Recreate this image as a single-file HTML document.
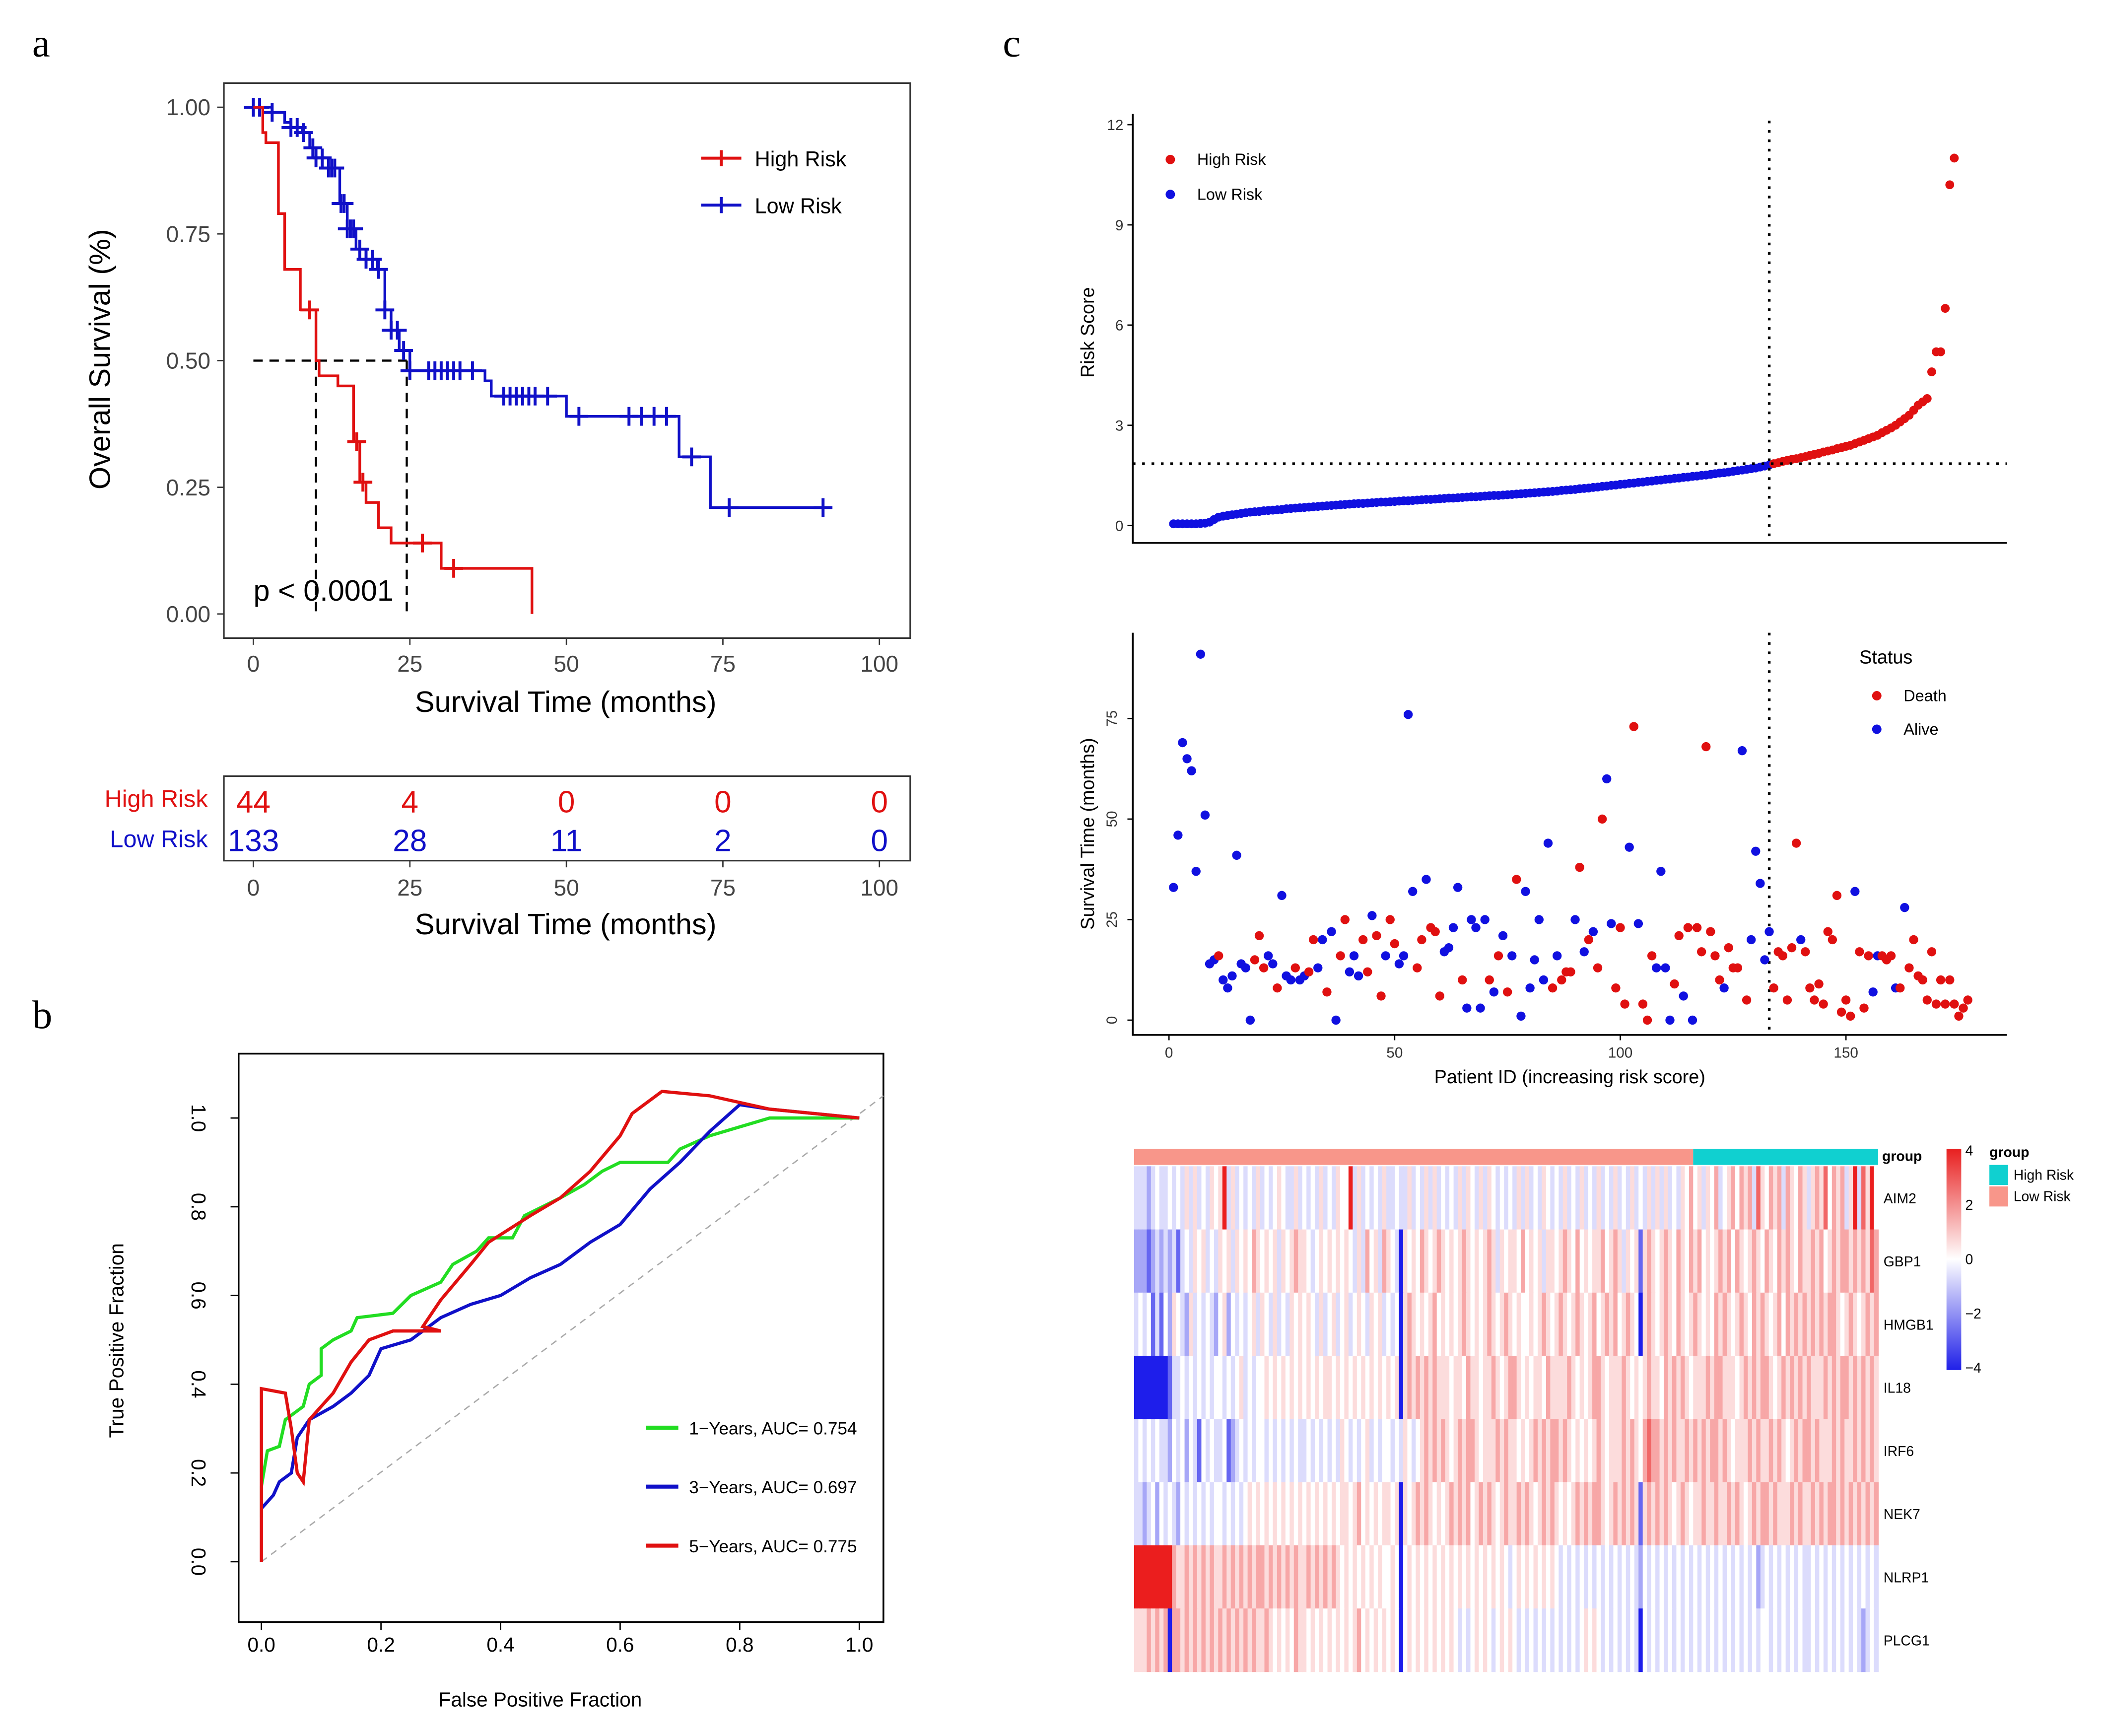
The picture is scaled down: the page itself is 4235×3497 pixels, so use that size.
<!DOCTYPE html>
<html><head><meta charset="utf-8"><style>
html,body{margin:0;padding:0;background:#fff;}
svg{display:block;font-family:"Liberation Sans",Arial,sans-serif;}
</style></head><body>
<svg id="fig" width="4235" height="3497" viewBox="0 0 1568 1295" preserveAspectRatio="none">
<rect x="0" y="0" width="1590" height="1310" fill="#fff"/>
<g id="A"></g>
<g id="B"></g>
<g id="C1"></g>
<g id="C2"></g>
<g id="C3"></g>
</svg>
<script>
// ---------- DATA ----------
const kmHighT=[0,1.5,2,4,5,7.5,10,10.5,13.5,16,17,18,20,22,30,44.5];
const kmHighS=[1,0.95,0.93,0.79,0.68,0.6,0.5,0.47,0.45,0.34,0.26,0.22,0.17,0.14,0.09,0];
const kmHighCens=[9,16.5,17.5,27,32];
const kmLowT=[0,3,5,6,7.8,9,10,12,13.8,15,16.4,18,19.8,21,22,23.3,25,37,38,50,68,73,92];
const kmLowS=[1,0.99,0.97,0.96,0.95,0.92,0.9,0.88,0.81,0.76,0.72,0.7,0.68,0.6,0.56,0.52,0.48,0.46,0.43,0.39,0.31,0.21,0.21];
const kmLowCens=[0,1,3,6,7,8,9.5,10,11,12,12.5,13,14,14.5,15,15.5,16,17,18,19,20,21,22,23,24,25,28,29,30,31,32,33,35,40,41,42,43,44,45,47,52,60,62,64,66,70,76,91];
const kmTicks=[0,25,50,75,100];
const survTicks=[0,0.25,0.5,0.75,1.0];
const tableHigh=[44,4,0,0,0];
const tableLow=[133,28,11,2,0];
const rocGreen=[[0,0.1],[0,0.17],[0.01,0.25],[0.03,0.26],[0.04,0.32],[0.07,0.35],[0.08,0.4],[0.1,0.42],[0.1,0.48],[0.12,0.5],[0.15,0.52],[0.16,0.55],[0.22,0.56],[0.25,0.6],[0.3,0.63],[0.32,0.67],[0.36,0.7],[0.38,0.73],[0.42,0.73],[0.44,0.78],[0.5,0.82],[0.54,0.85],[0.57,0.88],[0.6,0.9],[0.68,0.9],[0.7,0.93],[0.75,0.96],[0.8,0.98],[0.85,1.0],[1,1]];
const rocBlue=[[0,0.12],[0.02,0.15],[0.03,0.18],[0.05,0.2],[0.06,0.28],[0.08,0.32],[0.12,0.35],[0.15,0.38],[0.18,0.42],[0.2,0.48],[0.25,0.5],[0.3,0.55],[0.35,0.58],[0.4,0.6],[0.45,0.64],[0.5,0.67],[0.55,0.72],[0.6,0.76],[0.65,0.84],[0.7,0.9],[0.75,0.97],[0.8,1.03],[0.85,1.02],[1,1]];
const rocRed=[[0,0],[0,0.39],[0.04,0.38],[0.05,0.3],[0.06,0.2],[0.07,0.18],[0.08,0.32],[0.12,0.38],[0.15,0.45],[0.18,0.5],[0.22,0.52],[0.3,0.52],[0.27,0.53],[0.3,0.59],[0.35,0.67],[0.38,0.72],[0.45,0.78],[0.5,0.82],[0.55,0.88],[0.6,0.96],[0.62,1.01],[0.67,1.06],[0.75,1.05],[0.85,1.02],[1,1]];
const rocTicks=[0,0.2,0.4,0.6,0.8,1.0];
const riskScores=[0.05,0.05,0.05,0.05,0.05,0.05,0.06,0.07,0.1,0.18,0.25,0.28,0.3,0.32,0.34,0.36,0.38,0.4,0.41,0.42,0.44,0.45,0.46,0.47,0.48,0.5,0.51,0.52,0.53,0.54,0.55,0.56,0.57,0.58,0.59,0.6,0.61,0.62,0.63,0.64,0.65,0.66,0.66,0.67,0.68,0.69,0.7,0.7,0.71,0.72,0.73,0.74,0.74,0.75,0.76,0.77,0.78,0.78,0.79,0.8,0.81,0.82,0.82,0.83,0.84,0.85,0.86,0.86,0.87,0.88,0.89,0.9,0.9,0.91,0.92,0.93,0.94,0.95,0.96,0.97,0.98,0.99,1.0,1.01,1.02,1.03,1.05,1.06,1.07,1.08,1.1,1.11,1.12,1.14,1.15,1.17,1.18,1.2,1.21,1.23,1.24,1.26,1.27,1.29,1.3,1.32,1.33,1.35,1.36,1.38,1.39,1.41,1.42,1.44,1.45,1.47,1.48,1.5,1.51,1.53,1.55,1.57,1.58,1.6,1.62,1.64,1.66,1.68,1.7,1.72,1.75,1.78,1.81,1.85,1.88,1.92,1.95,1.98,2.0,2.03,2.06,2.1,2.13,2.16,2.2,2.23,2.26,2.3,2.33,2.37,2.4,2.45,2.5,2.55,2.6,2.65,2.7,2.78,2.85,2.92,3.0,3.1,3.2,3.3,3.45,3.6,3.7,3.8,4.6,5.2,5.2,6.5,10.2,11.0];
const riskTicks=[0,3,6,9,12];
const cutoffIdx=133;
const cutoffScore=1.85;
const survTime=[33,46,69,65,62,37,91,51,14,15,16,10,8,11,41,14,13,0,15,21,13,16,14,8,31,11,10,13,10,11,12,20,13,20,7,22,0,16,25,12,16,11,20,12,26,21,6,16,25,19,14,16,76,32,13,20,35,23,22,6,17,18,23,33,10,3,25,23,3,25,10,7,16,21,7,16,35,1,32,8,15,25,10,44,8,16,10,12,12,25,38,17,20,22,13,50,60,24,8,23,4,43,73,24,4,0,16,13,37,13,0,9,21,6,23,0,23,17,68,22,16,10,8,18,13,13,67,5,20,42,34,15,22,8,17,16,5,18,44,20,17,8,5,9,4,22,20,31,2,5,1,32,17,3,16,7,16,16,15,16,8,8,28,13,20,11,10,5,17,4,10,4,10,4,1,3,5];
const survStatus="AAAAAAAAAA"+"DAAAAAAADD"+"DAADAAADAA"+"DDAADAADDA"+"AADDADDADD"+"AAAADDADDD"+"AAAADAAAAA"+"DADADADAAA"+"AAAADADDDA"+"DADADDAADD"+"DADADDDAAA"+"ADDADADDDD"+"DDADDDADAA"+"AAADDDDDDA"+"DDDDDDDDDD"+"DADDDAADDD"+"ADADDDDDDD"+"DDDDDDD";
const survTicksC=[0,25,50,75];
const patientTicks=[0,50,100,150];
const genes=["AIM2","GBP1","HMGB1","IL18","IRF6","NEK7","NLRP1","PLCG1"];
const heatRows=[
"3332343343"+"4353534354"+"5835343435"+"3434543353"+"4343534354"+"4835343435"+"3343353435"+"3534343535"+"4353543434"+"3535343543"+"4353435343"+"5343534353"+"4353535343"+"5464535463"+"4564656375"+"4656365465"+"3565746563"+"5837584",
"2221232323"+"1343545343"+"5453545465"+"4545354565"+"5434545454"+"5435364536"+"5430545465"+"4565454565"+"4545653545"+"5464545355"+"4565464545"+"5645653545"+"1565456546"+"5465645456"+"5646545654"+"6546565465"+"5656456566"+"5656576",
"3434131425"+"4325343432"+"4524343453"+"5435343545"+"4543534534"+"5345435453"+"4340565454"+"5645454565"+"4545654565"+"4544545654"+"5654565456"+"4565645654"+"0565456546"+"5456545465"+"6545654656"+"5456465656"+"5656566545"+"6545656",
"0000000013"+"3434343434"+"4343453434"+"4545454545"+"4545455454"+"5454545454"+"5450565656"+"5655545546"+"5545565456"+"6545455465"+"5556545456"+"6545556545"+"4565546565"+"6545556566"+"5554565656"+"6545656565"+"6555656566"+"5656565",
"3434343324"+"3424314343"+"3412343434"+"4343434343"+"3434343435"+"4343453434"+"4343543456"+"5656545656"+"6545556565"+"5454565656"+"6565454545"+"6545556565"+"4676656565"+"5656565665"+"6545556565"+"5656545656"+"6565556565"+"5656565",
"3323424343"+"2434343434"+"4343434545"+"4545454545"+"4545454545"+"5456454545"+"5450545656"+"5454565656"+"4565654565"+"5656545656"+"5454565656"+"6545656565"+"1565656545"+"6545565565"+"5656545656"+"6565556565"+"5656566565"+"6565656",
"8888888886"+"5565656565"+"5656565656"+"6565656565"+"5656565654"+"5454545454"+"4540454545"+"4545454545"+"4545454543"+"4545454545"+"4343434343"+"4343434343"+"2434343434"+"3434343434"+"3434343423"+"4343434343"+"3434343434"+"3434343",
"5556565606"+"6565656565"+"6565656565"+"5654545465"+"5454545454"+"5456454545"+"4540454545"+"4545454343"+"4545434545"+"4343434343"+"4343434545"+"4343434343"+"0434343434"+"3434343434"+"3434343434"+"4343434343"+"3434343434"+"3432343"];
const scaleTicks=[4,2,0,-2,-4];

// ---------- HELPERS ----------
const NS="http://www.w3.org/2000/svg";
function mk(parent,tag,attrs,txt){const e=document.createElementNS(NS,tag);for(const k in attrs)e.setAttribute(k,attrs[k]);if(txt!==undefined)e.textContent=txt;parent.appendChild(e);return e;}
function lin(d0,d1,r0,r1){return v=>r0+(v-d0)*(r1-r0)/(d1-d0);}
const fig=document.getElementById('fig');

[["a",24,42],["b",24,767],["c",748,42]].forEach(p=>{
  const t=mk(fig,'text',{x:p[1],y:p[2],'font-family':'"Liberation Serif",serif','font-size':30},p[0]);
  
  
});

// ---------- PANEL A ----------
(function(){
const g=document.getElementById('A');
const X=lin(0,100,189,656), Y=lin(0,1,458,80);
const box=mk(g,'rect',{x:167,y:62,width:512,height:414,fill:'none',stroke:'#333','stroke-width':1.2});

survTicks.forEach(v=>{mk(g,'line',{x1:162,x2:167,y1:Y(v),y2:Y(v),stroke:'#333'});
  const t=mk(g,'text',{x:157,y:Y(v)+6,'text-anchor':'end','font-size':17,fill:'#444'},v.toFixed(2));
  });
kmTicks.forEach(v=>{mk(g,'line',{x1:X(v),x2:X(v),y1:476,y2:481,stroke:'#333'});
  const t=mk(g,'text',{x:X(v),y:501,'text-anchor':'middle','font-size':17,fill:'#444'},v);
  });
let t=mk(g,'text',{x:422,y:531,'text-anchor':'middle','font-size':22},'Survival Time (months)');

t=mk(g,'text',{transform:'translate(82,268) rotate(-90)','text-anchor':'middle','font-size':22},'Overall Survival (%)');

mk(g,'path',{d:`M${X(0)},${Y(0.5)}H${X(24.5)}M${X(10)},${Y(0.5)}V${Y(0)}M${X(24.5)},${Y(0.5)}V${Y(0)}`,stroke:'#000','stroke-dasharray':'7,5','stroke-width':1.6,fill:'none'});
function step(T,S){let d=`M${X(T[0])},${Y(S[0])}`;for(let i=1;i<T.length;i++){d+=`H${X(T[i])}V${Y(S[i])}`;}return d;}
function sAt(T,S,tt){let s=S[0];for(let i=0;i<T.length;i++){if(T[i]<=tt)s=S[i];}return s;}
[[kmLowT,kmLowS,kmLowCens,'#1010c8','km-low-risk-curve'],[kmHighT,kmHighS,kmHighCens,'#e01010','km-high-risk-curve']].forEach(c=>{
  const p=mk(g,'path',{d:step(c[0],c[1]),stroke:c[3],'stroke-width':2,fill:'none'});
  
  c[2].forEach(tt=>{const x=X(tt),y=Y(sAt(c[0],c[1],tt));
    const m=mk(g,'path',{d:`M${x-7},${y}H${x+7}M${x},${y-7}V${y+7}`,stroke:c[3],'stroke-width':2.2});
    });
});
t=mk(g,'text',{x:189,y:448,'font-size':22},'p < 0.0001');

[['High Risk','#e01010',118],['Low Risk','#1010c8',153]].forEach(l=>{
  const lg=mk(g,'g',{});
  mk(lg,'path',{d:`M523,${l[2]}H553M538,${l[2]-6}V${l[2]+6}`,stroke:l[1],'stroke-width':2.2});
  mk(lg,'text',{x:563,y:l[2]+6,'font-size':16},l[0]);
});
const tb=mk(g,'rect',{x:167,y:579,width:512,height:63,fill:'none',stroke:'#333','stroke-width':1.2});

t=mk(g,'text',{x:155,y:602,'text-anchor':'end','font-size':18,fill:'#e01010'},'High Risk');
t=mk(g,'text',{x:155,y:632,'text-anchor':'end','font-size':18,fill:'#1010c8'},'Low Risk');
kmTicks.forEach((v,i)=>{
  let c=mk(g,'text',{x:X(v),y:606,'text-anchor':'middle','font-size':23,fill:'#e01010'},tableHigh[i]);
  c=mk(g,'text',{x:X(v),y:635,'text-anchor':'middle','font-size':23,fill:'#1010c8'},tableLow[i]);
  mk(g,'line',{x1:X(v),x2:X(v),y1:642,y2:647,stroke:'#333'});
  c=mk(g,'text',{x:X(v),y:668,'text-anchor':'middle','font-size':17,fill:'#444'},v);
});
t=mk(g,'text',{x:422,y:697,'text-anchor':'middle','font-size':22},'Survival Time (months)');
})();

// ---------- PANEL B ----------
(function(){
const g=document.getElementById('B');
const X=lin(0,1,195,641), Y=lin(0,1,1165,834);
const box=mk(g,'rect',{x:178,y:786,width:481,height:424,fill:'none',stroke:'#000','stroke-width':1.3});

rocTicks.forEach(v=>{
  mk(g,'line',{x1:X(v),x2:X(v),y1:1210,y2:1216,stroke:'#000'});
  let t=mk(g,'text',{x:X(v),y:1232,'text-anchor':'middle','font-size':15},v.toFixed(1));
  mk(g,'line',{x1:172,x2:178,y1:Y(v),y2:Y(v),stroke:'#000'});
  t=mk(g,'text',{transform:`translate(143,${Y(v)}) rotate(90)`,'text-anchor':'middle','font-size':15},v.toFixed(1));
});
let t=mk(g,'text',{x:403,y:1273,'text-anchor':'middle','font-size':15},'False Positive Fraction');
t=mk(g,'text',{transform:'translate(92,1000) rotate(-90)','text-anchor':'middle','font-size':15},'True Positive Fraction');
mk(g,'line',{x1:X(0),y1:Y(0),x2:659,y2:Y(1.05),stroke:'#aaa','stroke-dasharray':'5,4','stroke-width':1});
[[rocGreen,'#22dd22','roc-1-year'],[rocBlue,'#1010c8','roc-3-year'],[rocRed,'#e01010','roc-5-year']].forEach(c=>{
  const p=mk(g,'polyline',{points:c[0].map(q=>X(q[0])+','+Y(q[1])).join(' '),fill:'none',stroke:c[1],'stroke-width':2.4});
  
});
[['1\u2212Years, AUC= 0.754','#22dd22',1065],['3\u2212Years, AUC= 0.697','#1010c8',1109],['5\u2212Years, AUC= 0.775','#e01010',1153]].forEach(l=>{
  const lg=mk(g,'g',{});
  mk(lg,'line',{x1:482,x2:506,y1:l[2],y2:l[2],stroke:l[1],'stroke-width':3});
  mk(lg,'text',{x:514,y:l[2]+5,'font-size':13},l[0]);
});
})();

// ---------- PANEL C1 ----------
(function(){
const g=document.getElementById('C1');
const X=lin(0,150,872,1377), Y=lin(0,12,392,93);
mk(g,'path',{d:'M845,85V405H1497',stroke:'#000','stroke-width':1.3,fill:'none'});
riskTicks.forEach(v=>{mk(g,'line',{x1:841,x2:845,y1:Y(v),y2:Y(v),stroke:'#000'});
  const t=mk(g,'text',{x:838,y:Y(v)+4,'text-anchor':'end','font-size':11,fill:'#333'},v);});
let t=mk(g,'text',{transform:'translate(816,248) rotate(-90)','text-anchor':'middle','font-size':14},'Risk Score');
riskScores.forEach((v,i)=>{
  const c=mk(g,'circle',{cx:X(i+1),cy:Y(v),r:3.3,fill:i+1>cutoffIdx?'#e01010':'#1010e0'});
  
});
mk(g,'line',{x1:845,x2:1497,y1:Y(cutoffScore),y2:Y(cutoffScore),stroke:'#000','stroke-dasharray':'2,5','stroke-width':2});
mk(g,'line',{x1:X(cutoffIdx),x2:X(cutoffIdx),y1:90,y2:405,stroke:'#000','stroke-dasharray':'2,5','stroke-width':2});
[['High Risk','#e01010',119],['Low Risk','#1010e0',145]].forEach(l=>{
  const lg=mk(g,'g',{});
  mk(lg,'circle',{cx:873,cy:l[2],r:3.5,fill:l[1]});
  mk(lg,'text',{x:893,y:l[2]+4,'font-size':12},l[0]);
});
})();

// ---------- PANEL C2 ----------
(function(){
const g=document.getElementById('C2');
const X=lin(0,150,872,1377), Y=lin(0,75,761,536);
mk(g,'path',{d:'M845,472V772H1497',stroke:'#000','stroke-width':1.3,fill:'none'});
survTicksC.forEach(v=>{mk(g,'line',{x1:841,x2:845,y1:Y(v),y2:Y(v),stroke:'#000'});
  const t=mk(g,'text',{transform:`translate(833,${Y(v)}) rotate(-90)`,'text-anchor':'middle','font-size':11,fill:'#333'},v);});
patientTicks.forEach(v=>{mk(g,'line',{x1:X(v),x2:X(v),y1:772,y2:776,stroke:'#000'});
  const t=mk(g,'text',{x:X(v),y:789,'text-anchor':'middle','font-size':11,fill:'#333'},v);});
let t=mk(g,'text',{x:1171,y:808,'text-anchor':'middle','font-size':14},'Patient ID (increasing risk score)');
t=mk(g,'text',{transform:'translate(816,622) rotate(-90)','text-anchor':'middle','font-size':14},'Survival Time (months)');
mk(g,'line',{x1:X(cutoffIdx),x2:X(cutoffIdx),y1:472,y2:772,stroke:'#000','stroke-dasharray':'2,5','stroke-width':2});
survTime.forEach((v,i)=>{
  const c=mk(g,'circle',{cx:X(i+1),cy:Y(v),r:3.4,fill:survStatus[i]==='D'?'#e01010':'#1010e0'});
  
});
t=mk(g,'text',{x:1387,y:495,'font-size':14},'Status');
[['Death','#e01010',519],['Alive','#1010e0',544]].forEach(l=>{
  const lg=mk(g,'g',{});
  mk(lg,'circle',{cx:1400,cy:l[2],r:3.5,fill:l[1]});
  mk(lg,'text',{x:1420,y:l[2]+4,'font-size':12},l[0]);
});
})();

// ---------- PANEL C3 ----------
(function(){
const g=document.getElementById('C3');
const x0=846,x1=1401,y0=870,y1=1247,n=heatRows[0].length;
const cw=(x1-x0)/n, rh=(y1-y0)/genes.length;
function col(v){const t=Math.pow(Math.min(1,Math.abs(v)/4),1.35);
  if(v>=0){return `rgb(${Math.round(255-20*t)},${Math.round(255-225*t)},${Math.round(255-225*t)})`;}
  return `rgb(${Math.round(255-225*t)},${Math.round(255-225*t)},${Math.round(255-20*t)})`;}
heatRows.forEach((row,r)=>{
  for(let c=0;c<n;c++){
    const v=parseInt(row[c])-4;
    const cell=mk(g,'rect',{x:(x0+c*cw).toFixed(2),y:(y0+r*rh).toFixed(2),width:(cw+0.4).toFixed(2),height:(rh+0.3).toFixed(2),fill:col(v)});
    
    
  }
  const t=mk(g,'text',{x:1405,y:y0+r*rh+rh/2+4,'font-size':10.5},genes[r]);
  
});
let b=mk(g,'rect',{x:x0,y:857,width:cutoffIdx*cw,height:12,fill:'#f8968a'});
b=mk(g,'rect',{x:x0+cutoffIdx*cw,y:857,width:(n-cutoffIdx)*cw,height:12,fill:'#10d0d0'});
let t=mk(g,'text',{x:1404,y:866,'font-size':10.5,'font-weight':'bold'},'group');
const defs=mk(g,'defs',{});const lg=mk(defs,'linearGradient',{id:'gs',x1:0,y1:0,x2:0,y2:1});
[['0','#e82020'],['0.5','#ffffff'],['1','#2020e8']].forEach(s=>mk(lg,'stop',{offset:s[0],'stop-color':s[1]}));
const sb=mk(g,'rect',{x:1452,y:857,width:11,height:165,fill:'url(#gs)'});
scaleTicks.forEach((v,i)=>{const tt=mk(g,'text',{x:1466,y:862+i*40.5,'font-size':10.5},v<0?'\u2212'+Math.abs(v):v);});
t=mk(g,'text',{x:1484,y:863,'font-size':10.5,'font-weight':'bold'},'group');
[['High Risk','#10d0d0',869],['Low Risk','#f8968a',885]].forEach(l=>{
  const e=mk(g,'g',{});
  mk(e,'rect',{x:1484,y:l[2],width:14,height:15,fill:l[1]});
  mk(e,'text',{x:1502,y:l[2]+11,'font-size':10.5},l[0]);
});
})();
</script>
</body></html>
